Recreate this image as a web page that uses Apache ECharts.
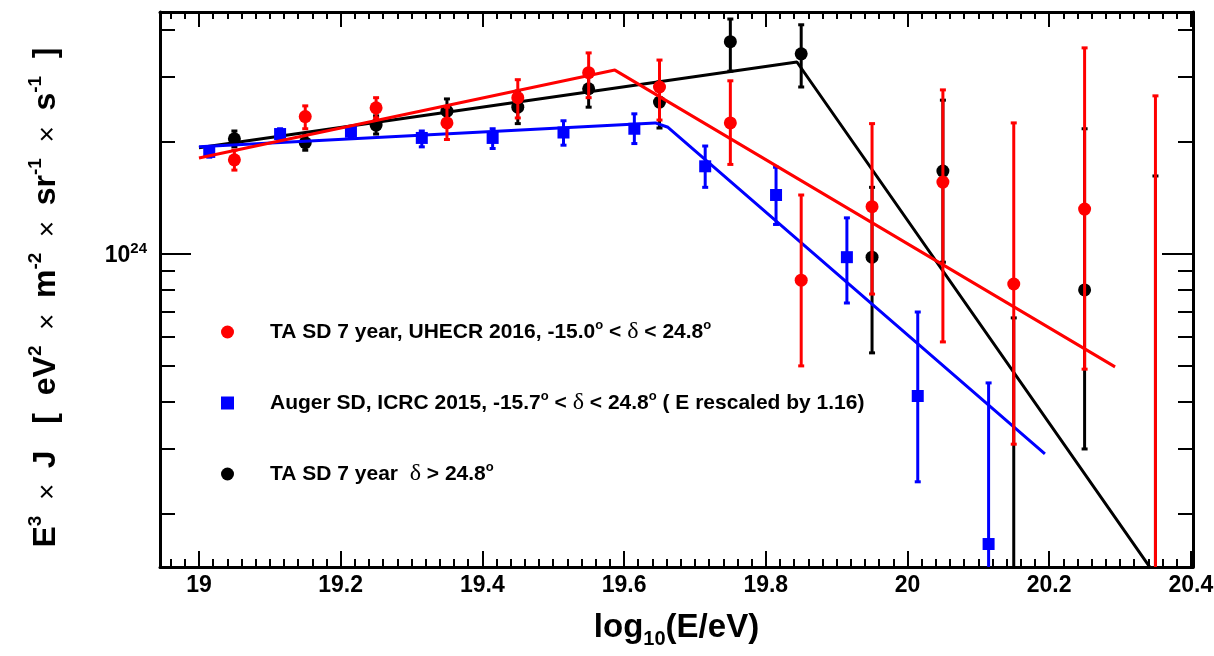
<!DOCTYPE html>
<html>
<head>
<meta charset="utf-8">
<script src="https://cdn.jsdelivr.net/npm/echarts@6/dist/echarts.min.js"></script>
<style>html,body{margin:0;padding:0;background:#fff}#c{width:1214px;height:656px}</style>
</head>
<body>
<div id="c"></div>
<script>
// ---------- data ----------
const TA_X   = [19.05, 19.15, 19.25, 19.35, 19.45, 19.55, 19.65, 19.75, 19.85, 19.95, 20.05, 20.15, 20.25, 20.35];
// TA SD 7 year, -15.0 < dec < 24.8 (red)
const RED_Y  = [1.79e24, 2.34e24, 2.47e24, 2.25e24, 2.63e24, 3.07e24, 2.81e24, 2.25e24, 8.5e23, 1.34e24, 1.56e24, 8.3e23, 1.32e24, 1.0e23];
const RED_LO = [1.68e24, 2.17e24, 2.32e24, 2.03e24, 2.32e24, 2.63e24, 2.29e24, 1.74e24, 5.0e23, 7.8e23, 5.8e23, 3.08e23, 4.9e23, 3.0e22];
const RED_HI = [1.90e24, 2.50e24, 2.63e24, 2.48e24, 2.94e24, 3.47e24, 3.32e24, 2.92e24, 1.44e24, 2.24e24, 2.76e24, 2.25e24, 3.58e24, 2.66e24];
// TA SD 7 year, dec > 24.8 (black)
const BLK_Y  = [2.04e24, 1.99e24, 2.22e24, 2.42e24, 2.48e24, 2.78e24, 2.56e24, 3.72e24, 3.45e24, 9.8e23, 1.67e24, 1.0e23, 8.0e23, 1.0e23];
const BLK_LO = [1.94e24, 1.90e24, 2.10e24, 2.26e24, 2.24e24, 2.48e24, 2.18e24, 3.10e24, 2.81e24, 5.42e23, 9.5e23, 3.0e22, 2.99e23, 3.0e22];
const BLK_HI = [2.14e24, 2.08e24, 2.35e24, 2.61e24, 2.74e24, 3.09e24, 2.90e24, 4.28e24, 4.13e24, 1.51e24, 2.59e24, 6.73e23, 2.17e24, 1.62e24];
// Auger SD, ICRC 2015 (blue), E rescaled by 1.16
const AUG_X  = [19.0145, 19.1145, 19.2145, 19.3145, 19.4145, 19.5145, 19.6145, 19.7145, 19.8145, 19.9145, 20.0145, 20.1145];
const AUG_Y  = [1.88e24, 2.10e24, 2.13e24, 2.05e24, 2.05e24, 2.12e24, 2.17e24, 1.72e24, 1.44e24, 9.8e23, 4.15e23, 1.66e23];
const AUG_LO = [1.82e24, 2.04e24, 2.06e24, 1.94e24, 1.92e24, 1.96e24, 1.98e24, 1.51e24, 1.20e24, 7.38e23, 2.44e23, 5.0e22];
const AUG_HI = [1.94e24, 2.17e24, 2.20e24, 2.14e24, 2.17e24, 2.28e24, 2.38e24, 1.95e24, 1.71e24, 1.25e24, 6.98e23, 4.50e23];
// broken power-law fits (vertices)
const RED_FIT_X = [19.0, 19.587, 20.293];
const RED_FIT_Y = [1.81e24, 3.12e24, 4.97e23];
const AUG_FIT_X = [19.0, 19.644, 19.662, 20.194];
const AUG_FIT_Y = [1.94e24, 2.25e24, 2.19e24, 2.90e23];
const BLK_FIT_X = [19.0, 19.844, 20.40];
const BLK_FIT_Y = [1.93e24, 3.28e24, 1.0e23];
// axes / ticks
const XMIN = 18.945, XMAX = 20.403, YMIN = 1.44e23, YMAX = 4.47e24;
const X_TICKS = [19, 19.2, 19.4, 19.6, 19.8, 20, 20.2, 20.4];
const X_TICK_LABELS = ['19', '19.2', '19.4', '19.6', '19.8', '20', '20.2', '20.4'];
const X_MINOR_STEP = 0.02;
const Y_MAJOR = [1e24];
const Y_MAJOR_EXP = ['24'];
const Y_MINOR = [2e23, 3e23, 4e23, 5e23, 6e23, 7e23, 8e23, 9e23, 2e24, 3e24, 4e24];

const NAME_RED = 'TA SD 7 year, UHECR 2016, -15.0° < δ < 24.8°';
const NAME_AUG = 'Auger SD, ICRC 2015, -15.7° < δ < 24.8° ( E rescaled by 1.16)';
const NAME_BLK = 'TA SD 7 year δ > 24.8°';
const LEGEND_RICH = {};
LEGEND_RICH[NAME_RED] = '{sp| }{t|TA SD 7 year, UHECR 2016, -15.0}{s|o}{t| < }{g|δ}{t| < 24.8}{s|o}';
LEGEND_RICH[NAME_AUG] = '{sp| }{t|Auger SD, ICRC 2015, -15.7}{s|o}{t| < }{g|δ}{t| < 24.8}{s|o}{t| ( E rescaled by 1.16)}';
LEGEND_RICH[NAME_BLK] = '{sp| }{t|TA SD 7 year  }{g|δ}{t| > 24.8}{s|o}';

// ---------- build ----------
const FONT = 'Liberation Sans, Arial, Helvetica, sans-serif';
const xMinor = [];
for (let k = Math.ceil(XMIN / X_MINOR_STEP); k * X_MINOR_STEP <= XMAX + 1e-9; k++) {
  const v = +(k * X_MINOR_STEP).toFixed(2);
  if (!X_TICKS.some(t => Math.abs(t - v) < 1e-6)) xMinor.push(v);
}
const LMIN = Math.log10(YMIN), LMAX = Math.log10(YMAX);
const yMajL = Y_MAJOR.map(Math.log10), yMinL = Y_MINOR.map(Math.log10);

function tickX(pos, vals, len, line, labels) {
  return {
    type: 'value', position: pos, min: XMIN, max: XMAX,
    axisLine: { show: line, onZero: false, lineStyle: { color: '#000', width: 3 } },
    axisTick: { show: true, inside: true, length: len, customValues: vals, lineStyle: { color: '#000', width: 2 } },
    axisLabel: labels ? {
      show: true, customValues: X_TICKS, margin: 7,
      formatter: v => { const i = X_TICKS.findIndex(t => Math.abs(t - v) < 1e-6); return i >= 0 ? X_TICK_LABELS[i] : ''; },
      color: '#000', fontFamily: FONT, fontWeight: 'bold', fontSize: 23
    } : { show: false },
    splitLine: { show: false }
  };
}
function tickY(pos, vals, len, line, labels) {
  return {
    type: 'value', position: pos, min: LMIN, max: LMAX,
    axisLine: { show: line, onZero: false, lineStyle: { color: '#000', width: 3 } },
    axisTick: { show: true, inside: true, length: len, customValues: vals, lineStyle: { color: '#000', width: 2 } },
    axisLabel: labels ? {
      show: true, customValues: yMajL, margin: 13,
      formatter: v => { const i = yMajL.findIndex(t => Math.abs(t - v) < 1e-6); return i >= 0 ? '{b|10}{s|' + Y_MAJOR_EXP[i] + '}' : ''; },
      rich: {
        b: { fontFamily: FONT, fontWeight: 'bold', fontSize: 23, lineHeight: 26, verticalAlign: 'bottom', color: '#000' },
        s: { fontFamily: FONT, fontWeight: 'bold', fontSize: 15, lineHeight: 16, verticalAlign: 'top', color: '#000' }
      }
    } : { show: false },
    splitLine: { show: false }
  };
}

const xAxisMain = tickX('bottom', X_TICKS, 16, true, true);
xAxisMain.name = '{t|log}{sub|10}{t|(E/eV)}';
xAxisMain.nameLocation = 'middle';
xAxisMain.nameGap = 44;
xAxisMain.nameTextStyle = {
  rich: {
    t: { fontFamily: FONT, fontWeight: 'bold', fontSize: 33, lineHeight: 38, verticalAlign: 'top', color: '#000' },
    sub: { fontFamily: FONT, fontWeight: 'bold', fontSize: 20, lineHeight: 20, verticalAlign: 'bottom', color: '#000' }
  }
};

const yAxisData = {
  type: 'log', position: 'left', min: YMIN, max: YMAX, logBase: 10,
  axisLine: { show: true, onZero: false, lineStyle: { color: '#000', width: 3 } },
  axisTick: { show: false }, axisLabel: { show: false }, splitLine: { show: false }, minorTick: { show: false },
  name: '{t|E}{u|3}{x|  ×  }{t|J   [  eV}{u|2}{x|  ×  }{t|m}{u|-2}{x|  ×  }{t|sr}{u|-1}{x|  ×  }{t|s}{u|-1}{t|  ]}',
  nameLocation: 'middle', nameRotate: 90, nameGap: 98,
  nameTextStyle: {
    padding: [0, 16, 0, 0],
    rich: {
      t: { fontFamily: FONT, fontWeight: 'bold', fontSize: 32, lineHeight: 36, verticalAlign: 'bottom', color: '#000' },
      x: { fontFamily: FONT, fontWeight: 'normal', fontSize: 28, lineHeight: 36, verticalAlign: 'bottom', color: '#000' },
      u: { fontFamily: FONT, fontWeight: 'bold', fontSize: 19, lineHeight: 22, verticalAlign: 'top', color: '#000' }
    }
  }
};

function errRender(color) {
  return function (params, api) {
    const x = api.value(0);
    const top = api.coord([x, api.value(3)]);
    const bot = api.coord([x, api.value(2)]);
    const cw = 3, st = { stroke: color, lineWidth: 3 };
    return {
      type: 'group', children: [
        { type: 'line', shape: { x1: top[0], y1: top[1], x2: bot[0], y2: bot[1] }, style: st },
        { type: 'line', shape: { x1: top[0] - cw, y1: top[1], x2: top[0] + cw, y2: top[1] }, style: st },
        { type: 'line', shape: { x1: bot[0] - cw, y1: bot[1], x2: bot[0] + cw, y2: bot[1] }, style: st }
      ]
    };
  };
}
function errSeries(xs, lo, hi, ys, color, z) {
  return {
    type: 'custom', z: z, clip: true, silent: true,
    renderItem: errRender(color),
    encode: { x: 0, y: 1 },
    data: xs.map((x, i) => [x, ys[i], lo[i], hi[i]])
  };
}
function ptSeries(name, xs, ys, color, symbol, size, z) {
  return {
    name: name, type: 'scatter', z: z, symbol: symbol, symbolSize: size, clip: true, silent: true,
    itemStyle: { color: color, opacity: 1 },
    data: xs.map((x, i) => [x, ys[i]])
  };
}
function fitSeries(xs, ys, color, z) {
  return {
    type: 'line', z: z, showSymbol: false, symbol: 'none', clip: true, silent: true,
    lineStyle: { color: color, width: 3 },
    data: xs.map((x, i) => [x, ys[i]])
  };
}

const option = {
  animation: false,
  backgroundColor: '#fff',
  grid: { left: 160, right: 21, top: 12, bottom: 89, containLabel: false, outerBoundsMode: 'none' },
  xAxis: [
    xAxisMain,
    tickX('bottom', xMinor, 8, false, false),
    tickX('top', X_TICKS, 15, true, false),
    tickX('top', xMinor, 7, false, false)
  ],
  yAxis: [
    yAxisData,
    tickY('left', yMajL, 31, false, true),
    tickY('left', yMinL, 15, false, false),
    tickY('right', yMajL, 31, true, false),
    tickY('right', yMinL, 15, false, false)
  ],
  legend: {
    orient: 'vertical', left: 221, top: 319, padding: 0,
    itemWidth: 13, itemHeight: 13, itemGap: 46, selectedMode: false,
    data: [
      { name: NAME_RED, icon: 'circle' },
      { name: NAME_AUG, icon: 'rect' },
      { name: NAME_BLK, icon: 'circle' }
    ],
    formatter: n => LEGEND_RICH[n],
    textStyle: {
      color: '#000',
      rich: {
        sp: { width: 31, fontSize: 21, lineHeight: 26 },
        t: { fontFamily: FONT, fontWeight: 'bold', fontSize: 21, lineHeight: 26, color: '#000' },
        s: { fontFamily: FONT, fontWeight: 'bold', fontSize: 13, lineHeight: 14, verticalAlign: 'top', color: '#000' },
        g: { fontFamily: 'Liberation Serif, DejaVu Serif, serif', fontWeight: 'normal', fontSize: 24, lineHeight: 26, color: '#000' }
      }
    }
  },
  series: [
    errSeries(TA_X, BLK_LO, BLK_HI, BLK_Y, '#000000', 2),
    ptSeries(NAME_BLK, TA_X, BLK_Y, '#000000', 'circle', 13, 3),
    fitSeries(BLK_FIT_X, BLK_FIT_Y, '#000000', 4),
    errSeries(AUG_X, AUG_LO, AUG_HI, AUG_Y, '#0000ff', 5),
    ptSeries(NAME_AUG, AUG_X, AUG_Y, '#0000ff', 'rect', 12, 6),
    fitSeries(AUG_FIT_X, AUG_FIT_Y, '#0000ff', 7),
    errSeries(TA_X, RED_LO, RED_HI, RED_Y, '#ff0000', 8),
    ptSeries(NAME_RED, TA_X, RED_Y, '#ff0000', 'circle', 13, 9),
    fitSeries(RED_FIT_X, RED_FIT_Y, '#ff0000', 10)
  ]
};
const chart = echarts.init(document.getElementById('c'), null, { renderer: 'canvas' });
chart.setOption(option);
</script>
</body>
</html>
